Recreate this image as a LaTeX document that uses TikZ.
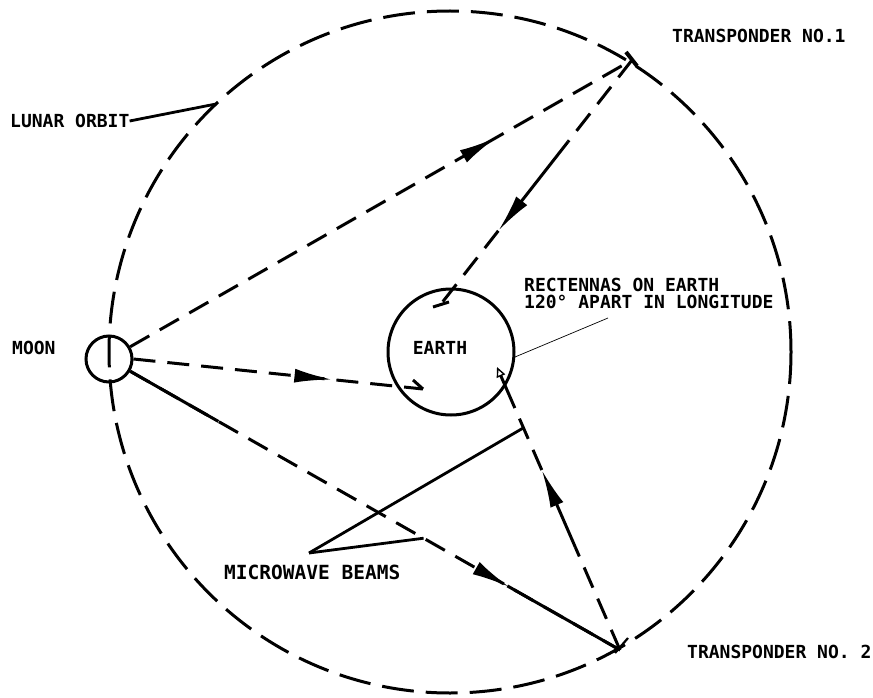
\documentclass[tikz,border=0pt]{standalone}
\usepackage{fontspec}
\newfontfamily\plotfont{DejaVu Sans Mono}
\usetikzlibrary{arrows.meta,calc,decorations.markings}
\tikzset{
  orbit/.style={line width=3pt, dash pattern=on 32pt off 12pt},
  beam/.style={line width=3pt, dash pattern=on 22pt off 12pt},
  beamsolid/.style={line width=3pt},
  bighead/.style={-{Latex[length=38pt,width=14pt]}},
  arrowat/.style={postaction={decorate},decoration={markings,mark=at position #1 with {\arrow{Latex[length=38pt,width=14pt]}}}},
  leader/.style={line width=2.8pt},
  thinleader/.style={line width=0.7pt},
  body/.style={circle, draw, line width=3pt, inner sep=0pt},
  lbl/.style={font=\plotfont\bfseries\fontsize{18}{19}\selectfont, inner sep=0pt},
}
\begin{document}
\begin{tikzpicture}[x=1pt,y=-1pt]
\useasboundingbox (0,0) rectangle (873,698);
\fill[white] (0,0) rectangle (873,698);
% orbit
\coordinate (oc) at (450,352);
\draw[orbit] (oc) circle [radius=341];
% bodies
\node[body, minimum size=46pt] (moon) at (109,359) {};
\node[body, minimum size=126pt] (earth) at (451,352) {};
\coordinate (t1) at (632,60);
\coordinate (t2) at (620,650);
\coordinate (e1) at (441,304);
\coordinate (e2) at (423,389);
\coordinate (e3) at (497,367);
% transponder marks
\draw[line width=4pt] ($(t1)+(-6,-8)$) -- ($(t1)+(5,6)$);
\draw[line width=2.2pt] ($(t2)+(-5,3)$) -- ($(t2)+(8,-12)$);
% Moon -> T1
\draw[beam, arrowat=0.73] (moon.30) -- (t1);
% T1 -> Earth
\draw[beam] (t1) -- ($(t1)!0.335!(e1)$);
\draw[beamsolid] ($(t1)!0.335!(e1)$) -- ($(t1)!0.60!(e1)$);
\draw[beam] ($(t1)!0.70!(e1)$) -- (e1);
\draw[beamsolid, bighead] ($(t1)!0.58!(e1)$) -- ($(t1)!0.70!(e1)$);
\draw[beamsolid] ($(e1)+(-8,3)$) -- ($(e1)+(8,-2)$);
% Moon -> Earth
\draw[beam, arrowat=0.687] (moon.0) -- (e2);
\draw[beamsolid] (e2) -- ++(-10,-9);
% Moon -> T2
\draw[beam, arrowat=0.774] (moon.-30) -- (t2);
\draw[beamsolid] (moon.-30) -- ($(moon.-30)!0.18!(t2)$);
\draw[beamsolid] ($(moon.-30)!0.77!(t2)$) -- (t2);
% T2 -> Earth
\draw[beam] (t2) -- ($(t2)!0.364!(e3)$);
\draw[beamsolid, bighead] ($(t2)!0.364!(e3)$) -- ($(t2)!0.636!(e3)$);
\draw[beam] ($(t2)!0.636!(e3)$) -- ($(t2)!0.855!(e3)$);
\draw[beamsolid, -{Triangle[open,length=10pt,width=9pt,line width=1.4pt]}] ($(t2)!0.855!(e3)$) -- (e3);
% labels
\node[lbl, anchor=west] (tn1) at (672,36) {TRANSPONDER NO.1};
\node[lbl, anchor=west] (tn2) at (687,652) {TRANSPONDER NO. 2};
\node[lbl, anchor=west] (lo) at (10,121) {LUNAR ORBIT};
\node[lbl, anchor=west] (moonlbl) at (12,348) {MOON};
\node[lbl] (earthlbl) at (440,348) {EARTH};
\node[lbl, anchor=west, align=left, font=\plotfont\bfseries\fontsize{18}{17.5}\selectfont] (rect) at (524,293.5) {RECTENNAS ON EARTH\\120° APART IN LONGITUDE};
\node[lbl, anchor=west, font=\plotfont\bfseries\fontsize{19.5}{20}\selectfont] (mw) at (224,572) {MICROWAVE BEAMS};
% leaders
\coordinate (loend) at (216,104);
\draw[leader] (lo.east) -- (loend);
\coordinate (rectstart) at (608,318);
\coordinate (rectend) at (515,357);
\draw[thinleader] (rectstart) -- (rectend);
\coordinate (mwp) at (309,553);
\draw[leader] (mwp) -- ($(t2)!0.785!(e3)$);
\draw[leader] (mwp) -- ($(moon.-30)!0.599!(t2)$);
\end{tikzpicture}
\end{document}
